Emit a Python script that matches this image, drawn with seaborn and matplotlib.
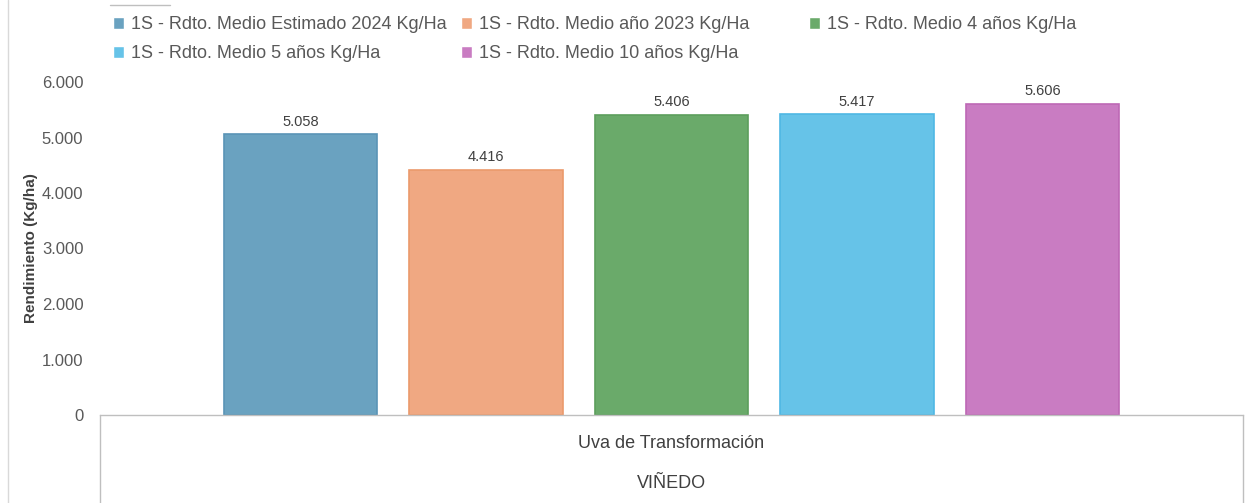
import pandas as pd
import seaborn as sns
from matplotlib import pyplot as plt
from matplotlib.lines import Line2D

series = [
    "1S - Rdto. Medio Estimado 2024 Kg/Ha",
    "1S - Rdto. Medio año 2023 Kg/Ha",
    "1S - Rdto. Medio 4 años Kg/Ha",
    "1S - Rdto. Medio 5 años Kg/Ha",
    "1S - Rdto. Medio 10 años Kg/Ha",
]
values = [5058, 4416, 5406, 5417, 5606]
value_labels = ["5.058", "4.416", "5.406", "5.417", "5.606"]
fill_colors = ["#6aa2c0", "#f0a882", "#6aaa6a", "#66c3e8", "#c97cc2"]
edge_colors = ["#5a94b6", "#eb9a6c", "#5c9e5c", "#4fb8e4", "#bd68b5"]
yticks = [0, 1000, 2000, 3000, 4000, 5000, 6000]
ytick_labels = ["0", "1.000", "2.000", "3.000", "4.000", "5.000", "6.000"]
category = "Uva de Transformación"
group = "VIÑEDO"

df = pd.DataFrame({"serie": series, "valor": values})

sns.set_theme(style="white")
plt.rcParams["font.family"] = ["Liberation Sans", "DejaVu Sans"]

W, H = 1251, 503
fig = plt.figure(figsize=(W / 100, H / 100), dpi=100)
ax = fig.add_axes([100 / W, (H - 415) / H, (1243 - 100) / W, (415 - 82) / H])

sns.barplot(data=df, x="serie", y="valor", hue="serie", palette=fill_colors,
            width=0.825, saturation=1, legend=True, ax=ax)

for patch, ec in zip(ax.patches, edge_colors):
    patch.set_edgecolor(ec)
    patch.set_linewidth(1.2)

for i, (v, lab) in enumerate(zip(values, value_labels)):
    ax.annotate(lab, (i, v), xytext=(0, 4), textcoords="offset points",
                ha="center", va="bottom", fontsize=10.5, color="#404040")

ax.set_xlim(-1.081, 5.081)
ax.set_ylim(0, 6000)
ax.set_yticks(yticks)
ax.set_yticklabels(ytick_labels, fontsize=12, color="#595959")
ax.tick_params(axis="y", length=0, pad=12)
ax.set_xticks([])
ax.set_xlabel("")
ax.set_ylabel("Rendimiento (Kg/ha)", fontsize=11, fontweight="bold",
              color="#404040")
ax.yaxis.set_label_coords(-62 / 1143, 0.5)

for s in ["top", "right", "left"]:
    ax.spines[s].set_visible(False)
ax.spines["bottom"].set_color("#bfbfbf")
ax.spines["bottom"].set_linewidth(1)

# category box below the axis
box_h = -(H - 415) / (415 - 82)
for xx in [0, 1]:
    ax.add_line(Line2D([xx, xx], [0, box_h], transform=ax.transAxes,
                       color="#bfbfbf", lw=1, clip_on=False))
ax.text(0.5, -(444 - 415) / 333, category, transform=ax.transAxes,
        ha="center", va="center", fontsize=13, color="#404040")
ax.text(0.5, -(483 - 415) / 333, group, transform=ax.transAxes,
        ha="center", va="center", fontsize=13, color="#404040")

# legend: three equal-width columns, filled row by row
handles, labels = ax.get_legend_handles_labels()
ax.get_legend().remove()
columns = [[0, 3], [1, 4], [2]]
col_x = [104, 452, 800]
for idx, cx in zip(columns, col_x):
    fig.legend([handles[i] for i in idx], [labels[i] for i in idx],
               loc="upper left", bbox_to_anchor=(cx / W, 1 - 7 / H),
               ncol=1, frameon=False, fontsize=13, handlelength=0.62,
               handleheight=0.62, handletextpad=0.35, labelspacing=0.68,
               borderpad=0, labelcolor="#595959")

# figure border hints
fig.add_artist(Line2D([8 / W, 8 / W], [0, 1], transform=fig.transFigure,
                      color="#d9d9d9", lw=1))
fig.add_artist(Line2D([110 / W, 170 / W], [1 - 5 / H, 1 - 5 / H],
                      transform=fig.transFigure, color="#bfbfbf", lw=1))

fig.savefig("out.png", dpi=100, facecolor="white")
